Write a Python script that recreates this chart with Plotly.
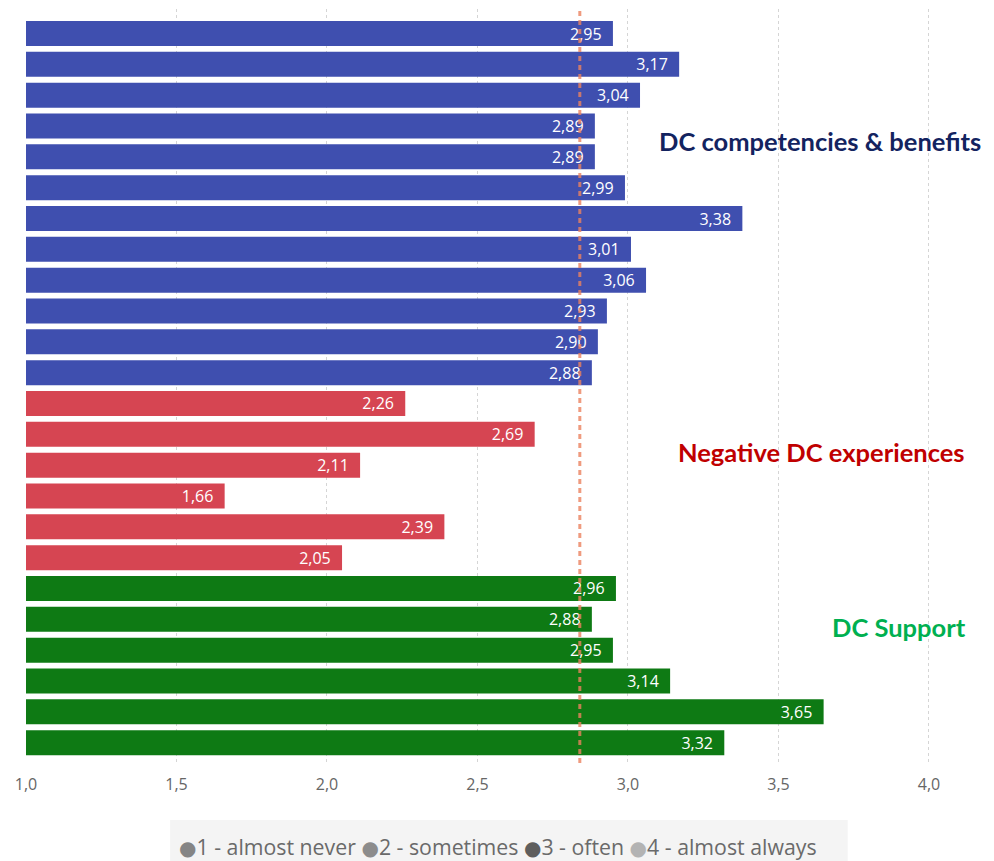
import plotly.graph_objects as go

# ---- data ----
items = [f"Item {i}" for i in range(1, 25)]
values = [2.95, 3.17, 3.04, 2.89, 2.89, 2.99, 3.38, 3.01, 3.06, 2.93, 2.90, 2.88,
          2.26, 2.69, 2.11, 1.66, 2.39, 2.05,
          2.96, 2.88, 2.95, 3.14, 3.65, 3.32]
groups = ["competencies"] * 12 + ["negative"] * 6 + ["support"] * 6
group_colors = {"competencies": "#3F4FAF", "negative": "#D64552", "support": "#0E7A14"}
mean_value = 2.84
x_ticks = [1.0, 1.5, 2.0, 2.5, 3.0, 3.5, 4.0]
legend_labels = ["1 - almost never", "2 - sometimes", "3 - often", "4 - almost always"]
legend_colors = ["#858585", "#8C8C8C", "#5E5E5E", "#B3B3B3"]
group_titles = [("DC competencies & benefits", "#13235F", 0.825, 3.638),
                ("Negative DC experiences", "#C00000", 0.4125, 3.643),
                ("DC Support", "#00B050", 0.18, 3.902)]

fig = go.Figure()
fig.add_trace(go.Bar(
    y=items, x=values, orientation="h",
    marker=dict(color=[group_colors[g] for g in groups], line=dict(width=0)),
    text=[f"{v:.2f}".replace(".", ",") + "\u00a0\u00a0" for v in values],
    textposition="inside", insidetextanchor="end",
    textfont=dict(color="white", size=16, family="Open Sans"),
    constraintext="none",
    showlegend=False, hoverinfo="skip",
))

fig.add_shape(type="line", xref="x", yref="paper", x0=mean_value, x1=mean_value,
              y0=0, y1=1, line=dict(color="rgba(235,130,95,0.8)", width=3, dash="5px,4px"),
              layer="above")

for txt, col, yp, xd in group_titles:
    fig.add_annotation(text=f"<b>{txt}</b>", x=xd, xref="x", y=yp, yref="paper",
                       showarrow=False, xanchor="center", yanchor="middle",
                       font=dict(family="Lato", size=25.5, color=col))

# legend background panel
fig.add_shape(type="rect", xref="paper", yref="paper", x0=0.158, x1=0.901,
              y0=-0.131, y1=-0.0756, fillcolor="#F4F4F4", line=dict(width=0),
              layer="below")
leg_text = " ".join(
    f'<span style="color:{c};font-family:DejaVu Sans;font-size:20px">●</span>{l}'
    for l, c in zip(legend_labels, legend_colors))
fig.add_annotation(text=leg_text, xref="paper", yref="paper", x=0.517, y=-0.111,
                   showarrow=False, xanchor="center", yanchor="middle",
                   font=dict(family="Open Sans", size=21.3, color="#6A6A6A"))

fig.update_layout(
    width=994, height=861,
    margin=dict(l=26, r=56, t=9, b=98),
    paper_bgcolor="white", plot_bgcolor="white",
    separators=",.",
    bargap=0.19,
    xaxis=dict(range=[1, 4.03], tickvals=x_ticks, tickformat=".1f",
               showgrid=True, gridcolor="#D5D5D5", griddash="dot", gridwidth=1,
               zeroline=False, showline=False,
               ticks="outside", ticklen=7, tickcolor="rgba(0,0,0,0)",
               tickfont=dict(family="Open Sans", size=16, color="#666666")),
    yaxis=dict(range=[23.66, -0.795], showticklabels=False, showgrid=False,
               zeroline=False, showline=False),
)

fig.write_html("out.html")
